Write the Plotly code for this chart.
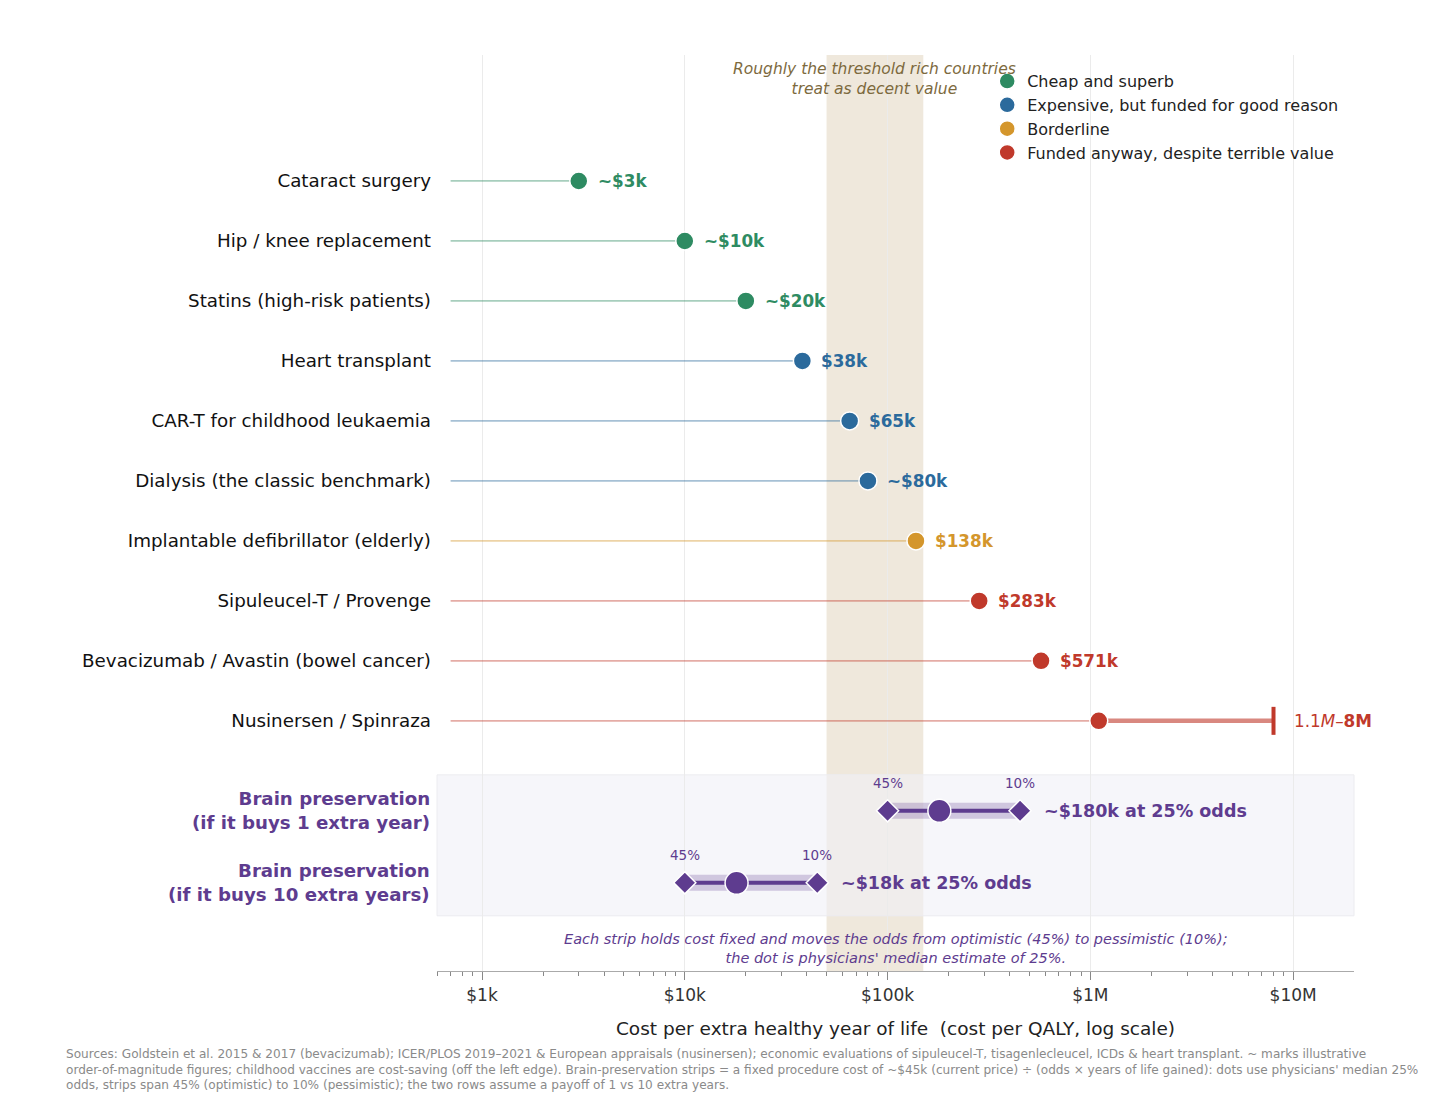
'''
Cost per QALY of funded treatments vs brain preservation (log scale lollipop)
'''

import math

import plotly.graph_objects as go

# --- data ---------------------------------------------------------------
treatments = [
    "Cataract surgery",
    "Hip / knee replacement",
    "Statins (high-risk patients)",
    "Heart transplant",
    "CAR-T for childhood leukaemia",
    "Dialysis (the classic benchmark)",
    "Implantable defibrillator (elderly)",
    "Sipuleucel-T / Provenge",
    "Bevacizumab / Avastin (bowel cancer)",
    "Nusinersen / Spinraza",
]
cost_per_qaly = [3000, 10000, 20000, 38000, 65000, 80000, 138000, 283000, 571000, 1100000]
value_labels = ["~$3k", "~$10k", "~$20k", "$38k", "$65k", "~$80k", "$138k", "$283k", "$571k",
                "1.1<i>M</i>–<b>8M</b>"]
category = ["cheap", "cheap", "cheap", "good", "good", "good", "border", "bad", "bad", "bad"]
nusinersen_high = 8000000

categories = ["cheap", "good", "border", "bad"]
category_names = ["Cheap and superb", "Expensive, but funded for good reason",
                  "Borderline", "Funded anyway, despite terrible value"]

brain_rows = ["Brain preservation<br>(if it buys 1 extra year)",
              "Brain preservation<br>(if it buys 10 extra years)"]
brain_optimistic = [100000, 10000]    # 45% odds
brain_median = [180000, 18000]        # 25% odds
brain_pessimistic = [450000, 45000]   # 10% odds
brain_labels = ["~$180k at 25% odds", "~$18k at 25% odds"]

threshold_low, threshold_high = 50000, 150000

tick_vals = [1e3, 1e4, 1e5, 1e6, 1e7]
tick_text = ["$1k", "$10k", "$100k", "$1M", "$10M"]

# --- styling ------------------------------------------------------------
FONT = "DejaVu Sans"
colors = {"cheap": "#2e8b62", "good": "#2b6a9c", "border": "#d4962c", "bad": "#c0392b"}
stem_colors = {"cheap": "rgba(46,139,98,0.42)", "good": "rgba(43,106,156,0.42)",
               "border": "rgba(212,150,44,0.42)", "bad": "rgba(192,57,43,0.42)"}
PURPLE = "#5e3c8f"
STEM_START = 700

row_y = list(range(len(treatments)))
brain_y = [10.5, 11.7]

lg = math.log10   # annotations on a log axis take log10 positions

fig = go.Figure()

# stems
for y, x, c in zip(row_y, cost_per_qaly, category):
    fig.add_trace(go.Scatter(x=[STEM_START, x], y=[y, y], mode="lines",
                             line=dict(color=stem_colors[c], width=1.7),
                             showlegend=False, hoverinfo="skip"))

# nusinersen range
fig.add_trace(go.Scatter(x=[cost_per_qaly[-1], nusinersen_high], y=[row_y[-1]] * 2,
                         mode="lines", line=dict(color="rgba(192,57,43,0.6)", width=4.5),
                         showlegend=False, hoverinfo="skip"))
fig.add_trace(go.Scatter(x=[nusinersen_high], y=[row_y[-1]], mode="markers",
                         marker=dict(symbol="line-ns", size=20,
                                     line=dict(color=colors["bad"], width=4)),
                         showlegend=False, hoverinfo="skip"))

# dots, one trace per category so the legend reads right
for cat, name in zip(categories, category_names):
    xs = [x for x, c in zip(cost_per_qaly, category) if c == cat]
    ys = [y for y, c in zip(row_y, category) if c == cat]
    fig.add_trace(go.Scatter(x=xs, y=ys, mode="markers", name=name,
                             marker=dict(color=colors[cat], size=18,
                                         line=dict(color="white", width=1.5))))

# value labels
for y, x, c, lab in zip(row_y, cost_per_qaly, category, value_labels):
    is_range = lab.startswith("1.1")
    xa = nusinersen_high if is_range else x
    fig.add_annotation(x=lg(xa), y=y, text=lab if is_range else "<b>%s</b>" % lab,
                       showarrow=False, xanchor="left", xshift=18 if is_range else 17,
                       font=dict(family=FONT, size=16.8, color=colors[c]))

# brain preservation strips
for y, lo, mid, hi, lab in zip(brain_y, brain_optimistic, brain_median, brain_pessimistic,
                               brain_labels):
    fig.add_trace(go.Scatter(x=[lo, hi], y=[y, y], mode="lines",
                             line=dict(color="rgba(94,60,143,0.25)", width=16),
                             showlegend=False, hoverinfo="skip"))
    fig.add_trace(go.Scatter(x=[lo, hi], y=[y, y], mode="lines",
                             line=dict(color=PURPLE, width=4),
                             showlegend=False, hoverinfo="skip"))
    fig.add_trace(go.Scatter(x=[lo, hi], y=[y, y], mode="markers",
                             marker=dict(symbol="diamond", size=17, color=PURPLE,
                                         line=dict(color="white", width=1.5)),
                             showlegend=False, hoverinfo="skip"))
    fig.add_trace(go.Scatter(x=[mid], y=[y], mode="markers",
                             marker=dict(size=23, color=PURPLE,
                                         line=dict(color="white", width=1.5)),
                             showlegend=False, hoverinfo="skip"))
    fig.add_annotation(x=lg(hi), y=y, text="<b>%s</b>" % lab, showarrow=False,
                       xanchor="left", xshift=22,
                       font=dict(family=FONT, size=17.5, color=PURPLE))
    for xv, pct in [(lo, "45%"), (hi, "10%")]:
        fig.add_annotation(x=lg(xv), y=y, text=pct, showarrow=False, yshift=28,
                           font=dict(family=FONT, size=13.5, color=PURPLE))

# brain row labels
for y, lab in zip(brain_y, brain_rows):
    fig.add_annotation(x=0, xref="paper", y=y, text="<b>%s</b>" % lab, showarrow=False,
                       xanchor="right", xshift=-5, align="right",
                       font=dict(family=FONT, size=18.2, color=PURPLE))

# shaded threshold band and brain panel
fig.add_shape(type="rect", xref="x", yref="paper", x0=threshold_low, x1=threshold_high,
              y0=0, y1=1, fillcolor="#efe8dc", line_width=0, layer="below")
fig.add_shape(type="rect", xref="paper", yref="y", x0=0, x1=1, y0=9.9, y1=12.25,
              fillcolor="rgba(240,240,246,0.6)", line=dict(color="#ececf0", width=1),
              layer="below")

fig.add_annotation(x=lg((threshold_low * threshold_high) ** 0.5), y=-1.7,
                   text="<i>Roughly the threshold rich countries<br>treat as decent value</i>",
                   showarrow=False, font=dict(family=FONT, size=15.5, color="#7d6a3e"))

fig.add_annotation(x=0.5, xref="paper", y=12.8,
                   text="<i>Each strip holds cost fixed and moves the odds from optimistic (45%) "
                        "to pessimistic (10%);<br>the dot is physicians' median estimate of 25%.</i>",
                   showarrow=False, font=dict(family=FONT, size=14.5, color=PURPLE))

fig.add_annotation(x=-0.407, xref="paper", y=-0.081, yref="paper", xanchor="left",
                   yanchor="top", align="left", showarrow=False,
                   text="Sources: Goldstein et al. 2015 &amp; 2017 (bevacizumab); ICER/PLOS 2019–2021 "
                        "&amp; European appraisals (nusinersen); economic evaluations of sipuleucel-T, "
                        "tisagenlecleucel, ICDs &amp; heart transplant. ~ marks illustrative<br>"
                        "order-of-magnitude figures; childhood vaccines are cost-saving (off the left "
                        "edge). Brain-preservation strips = a fixed procedure cost of ~$45k (current "
                        "price) ÷ (odds × years of life gained): dots use physicians' median 25%<br>"
                        "odds, strips span 45% (optimistic) to 10% (pessimistic); the two rows assume "
                        "a payoff of 1 vs 10 extra years.",
                   font=dict(family=FONT, size=12.1, color="#8a8a8a"))

minor_vals = [m * 10 ** e for e in range(2, 8) for m in range(2, 10)]

fig.update_layout(
    width=1456, height=1118,
    margin=dict(l=429, r=110, t=47, b=155),
    paper_bgcolor="white", plot_bgcolor="white",
    font=dict(family=FONT, size=15, color="#222"),
    legend=dict(x=0.6, y=0.99, xanchor="left", yanchor="top",
                bgcolor="rgba(255,255,255,0)", font=dict(family=FONT, size=16, color="#222"),
                itemsizing="trace", tracegroupgap=2),
    xaxis=dict(type="log", range=[2.778, 7.30], tickvals=tick_vals, ticktext=tick_text,
               showgrid=True, gridcolor="#ebebeb", gridwidth=1, zeroline=False,
               showline=True, linecolor="#aaaaaa", linewidth=1.2,
               ticks="outside", ticklen=8, tickcolor="#888", tickfont=dict(size=17, color="#333"),
               minor=dict(tickvals=minor_vals, ticks="outside", ticklen=4, tickcolor="#888",
                          showgrid=False),
               title=dict(text="Cost per extra healthy year of life  (cost per QALY, log scale)",
                          font=dict(size=18.5, color="#222"), standoff=18)),
    yaxis=dict(range=[13.17, -2.1], tickvals=row_y, ticktext=treatments,
               showgrid=False, zeroline=False, showline=False, ticks="",
               ticklabelstandoff=5, tickfont=dict(size=18.3, color="#111")),
)

fig.write_html("out.html")
